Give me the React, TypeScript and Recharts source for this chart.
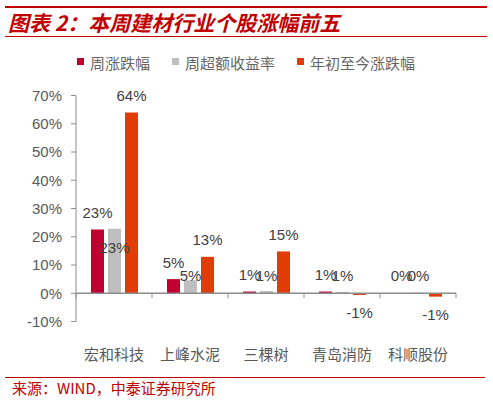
import React from 'react';
import { BarChart, Bar, XAxis, YAxis, ReferenceLine, Legend, LabelList } from 'recharts';

const categories = ['宏和科技', '上峰水泥', '三棵树', '青岛消防', '科顺股份'];
const weeklyChange = [22.6, 5.0, 0.6, 0.6, 0.1];
const weeklyExcess = [22.8, 4.6, 0.8, 0.5, 0.2];
const ytdChange = [64.0, 12.9, 14.8, -0.6, -1.2];
const seriesNames = ['周涨跌幅', '周超额收益率', '年初至今涨跌幅'];
const seriesColors = ['#C0002E', '#BFBFBF', '#E03C06'];
const yTicks = [-10, 0, 10, 20, 30, 40, 50, 60, 70];

const data = categories.map((name, i) => ({
  name,
  weekly: weeklyChange[i],
  excess: weeklyExcess[i],
  ytd: ytdChange[i],
}));

const LABEL_FONT = '"Liberation Sans", Arial, sans-serif';
const CJK_FONT = '"Noto Sans CJK SC", sans-serif';

const fmt = (v: number) => {
  const r = Math.round(v);
  return `${r === 0 ? 0 : r}%`;
};

function geom(props: any) {
  const vb = props.viewBox || props;
  const x = Number(vb.x ?? props.x);
  const y = Number(vb.y ?? props.y);
  const w = Number(vb.width ?? props.width);
  const h = Number(vb.height ?? props.height);
  const top = Math.min(y, y + h);
  const bottom = Math.max(y, y + h);
  return { cx: x + w / 2, top, bottom };
}

const outsideLabel = (props: any) => {
  const v = Number(props.value);
  const { cx, top, bottom } = geom(props);
  const ly = v >= 0 ? top - 17 : bottom + 18;
  return (
    <text x={cx} y={ly} textAnchor="middle" dominantBaseline="central" fill="#404040" fontSize={15} fontFamily={LABEL_FONT}>
      {fmt(v)}
    </text>
  );
};

const insideEndLabel = (props: any) => {
  const v = Number(props.value);
  const { cx, top, bottom } = geom(props);
  const ly = Math.min(top + 19, bottom - 18);
  return (
    <text x={cx} y={ly} textAnchor="middle" dominantBaseline="central" fill="#404040" fontSize={15} fontFamily={LABEL_FONT}>
      {fmt(v)}
    </text>
  );
};

const CategoryTick = (props: any) => {
  const { x, y, payload } = props;
  return (
    <text x={x} y={y + 31.5} textAnchor="middle" dominantBaseline="central" fill="#595959" fontSize={15} fontFamily={CJK_FONT}>
      {payload.value}
    </text>
  );
};

const ZeroAxis = (props: any) => {
  const { x1, y1, x2 } = props;
  const n = categories.length;
  const step = (x2 - x1) / n;
  const ticks = [];
  for (let i = 0; i <= n; i++) {
    const tx = x1 + step * i;
    ticks.push(<line key={i} x1={tx} y1={y1} x2={tx} y2={y1 + 5} stroke="#8C8C8C" strokeWidth={1} />);
  }
  return (
    <g>
      <line x1={x1} y1={y1} x2={x2} y2={y1} stroke="#8C8C8C" strokeWidth={1.5} />
      {ticks}
    </g>
  );
};

const LegendContent = () => (
  <div style={{ display: 'flex', alignItems: 'center', fontFamily: CJK_FONT, fontSize: 15, color: '#666666', whiteSpace: 'nowrap' }}>
    {seriesNames.map((n, i) => (
      <div key={n} style={{ display: 'flex', alignItems: 'center', marginRight: 22 }}>
        <span style={{ display: 'inline-block', width: 7, height: 7, background: seriesColors[i], marginRight: 6, marginTop: -2 }} />
        <span>{n}</span>
      </div>
    ))}
  </div>
);

export default function App() {
  return (
    <div style={{ position: 'fixed', left: 0, top: 0, width: 493, height: 400, background: '#ffffff', overflow: 'hidden' }}>
      <div style={{ position: 'absolute', left: 5, top: 5.5, width: 482, height: 2, background: '#C00000' }} />
      <div
        style={{
          position: 'absolute',
          left: 8,
          top: 8,
          height: 28,
          lineHeight: '28px',
          fontFamily: CJK_FONT,
          fontSize: 21,
          fontWeight: 700,
          fontStyle: 'italic',
          color: '#C00000',
          whiteSpace: 'nowrap',
        }}
      >
        图表 2：本周建材行业个股涨幅前五
      </div>
      <div style={{ position: 'absolute', left: 5, top: 35.5, width: 482, height: 1, background: '#C00000' }} />

      <div style={{ position: 'absolute', left: 0, top: 0 }}>
        <BarChart
          width={493}
          height={400}
          data={data}
          margin={{ top: 95.5, right: 37, bottom: 48.5, left: 0 }}
          barCategoryGap={15}
          barGap={4}
        >
          <YAxis
            width={76}
            domain={[-10, 70]}
            ticks={yTicks}
            interval={0}
            tickFormatter={(v: number) => `${v}%`}
            axisLine={{ stroke: '#8C8C8C', strokeWidth: 1 }}
            tickLine={{ stroke: '#8C8C8C' }}
            tickSize={5}
            tickMargin={9}
            tick={{ fill: '#595959', fontSize: 15, fontFamily: LABEL_FONT }}
          />
          <XAxis
            dataKey="name"
            height={30}
            axisLine={false}
            tickLine={false}
            tickSize={0}
            tickMargin={0}
            interval={0}
            tick={<CategoryTick />}
          />
          <Legend
            layout="horizontal"
            verticalAlign="middle"
            align="center"
            wrapperStyle={{ top: 52, left: 77, width: 400, height: 20 }}
            content={<LegendContent />}
          />
          <Bar dataKey="weekly" name={seriesNames[0]} fill={seriesColors[0]} isAnimationActive={false}>
            <LabelList dataKey="weekly" content={outsideLabel} />
          </Bar>
          <Bar dataKey="excess" name={seriesNames[1]} fill={seriesColors[1]} isAnimationActive={false}>
            <LabelList dataKey="excess" content={insideEndLabel} />
          </Bar>
          <Bar dataKey="ytd" name={seriesNames[2]} fill={seriesColors[2]} isAnimationActive={false}>
            <LabelList dataKey="ytd" content={outsideLabel} />
          </Bar>
          <ReferenceLine y={0} stroke="#8C8C8C" shape={ZeroAxis} />
        </BarChart>
      </div>

      <div style={{ position: 'absolute', left: 5, top: 377, width: 480, height: 1, background: '#C00000' }} />
      <div
        style={{
          position: 'absolute',
          left: 12,
          top: 379,
          height: 18,
          lineHeight: '18px',
          fontFamily: CJK_FONT,
          fontSize: 15,
          color: '#C00000',
          whiteSpace: 'nowrap',
        }}
      >
        来源：WIND，中泰证券研究所
      </div>
    </div>
  );
}
